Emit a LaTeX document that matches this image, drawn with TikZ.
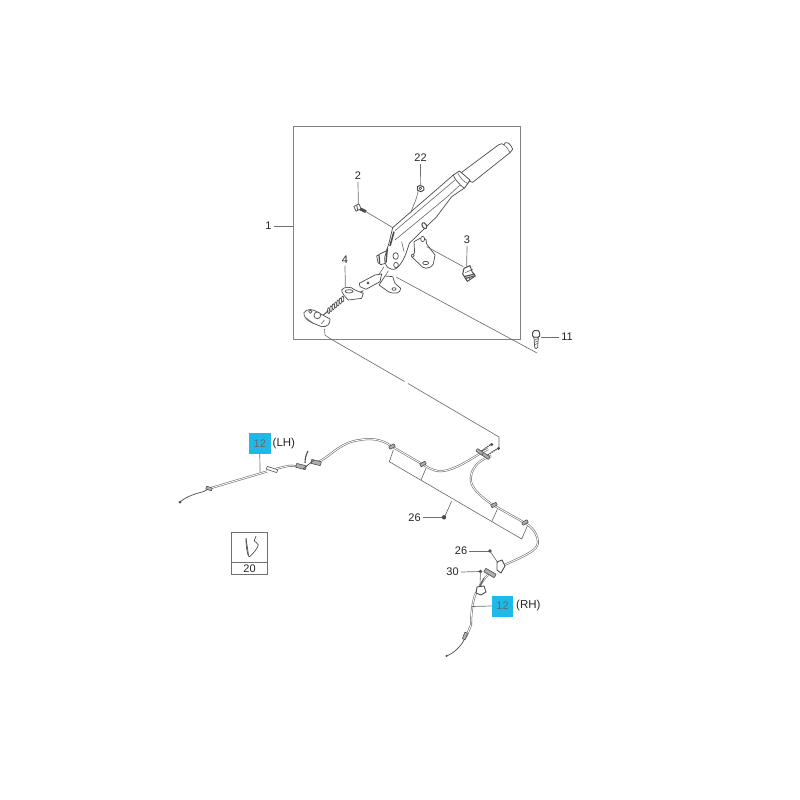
\documentclass[tikz,border=0pt]{standalone}
\usepackage{fontspec}
\setmainfont{Liberation Sans}
\definecolor{ink}{gray}{0.30}
\definecolor{cyanbox}{HTML}{1FB9E9}
\tikzset{
  lbl/.style={font=\fontsize{11}{13}\selectfont,text=black!85,inner sep=0pt},
  side/.style={font=\fontsize{11.5}{13}\selectfont,text=black!85,inner sep=0pt},
  part/.style={draw=ink,line width=0.7pt,line join=round,fill=white},
  thin line/.style={draw=ink!85,line width=0.6pt,line join=round},
  leader/.style={draw=ink!80,line width=0.7pt},
  cable/.style={draw=ink!85,line width=0.55pt,double=white,double distance=0.9pt,line join=round},
  wire/.style={draw=ink,line width=0.7pt,line join=round},
  blue box/.style={fill=cyanbox,minimum width=21.5pt,minimum height=21pt,inner sep=0pt,font=\fontsize{11}{13}\selectfont,text=black!60},
  fitting/.style={draw=ink,line width=0.6pt,fill=ink!45,rounded corners=0.5pt,minimum width=6pt,minimum height=3pt,inner sep=0pt},
}
\begin{document}
\begin{tikzpicture}[x=1pt,y=-1pt]
\useasboundingbox (0,0) rectangle (800,800);
\fill[white] (0,0) rectangle (800,800);

% frame
\node[draw=ink!70,line width=0.9pt,minimum width=227pt,minimum height=213.5pt,inner sep=0pt] (frame) at (406.5,232.8) {};

% long cable guide lines
\coordinate (a0) at (324.5,329);
\coordinate (a1) at (325,335);
\coordinate (a2) at (330,338.5);
\coordinate (a3) at (404.5,381.5);
\coordinate (a4) at (408,383.5);
\coordinate (a5) at (499,437);
\coordinate (a6) at (499,448);
\draw[thin line] (a0)--(a1)--(a2)--(a3);
\draw[thin line] (a4)--(a5)--(a6);
\coordinate (b1) at (396,277);
\coordinate (b2) at (537,353);
\draw[thin line] (b1)--(b2);

% lever assembly, in the coordinates of a 3x enlargement
\begin{scope}[shift={(280,120)},scale=1/3]
  % grip
  \path[part] (545,157) -- (655,75) .. controls (662,70) and (668,70) .. (672,74)
     -- (676,68) .. controls (684,66) and (692,72) .. (698,88) -- (690,98)
     -- (578,187) .. controls (565,185) and (552,172) .. (545,157) -- cycle;
  \draw[thin line] (672,74) .. controls (680,80) and (686,90) .. (690,98);
  % connecting tabs under the plate
  \draw[thin line] (312,440) -- (298,462);
  \draw[thin line] (325,452) -- (316,468);
  % pawl, behind the plate
  \path[part] (290,408) -- (300,402) -- (320,392) -- (322,428) -- (303,434) -- (294,428) -- cycle;
  \draw[ink,line width=1.2pt] (297,405) -- (299,430);
  % lever arm
  \path[part] (520,165) -- (338,323) -- (328,365) -- (314,412) .. controls (312,440) and (330,455) .. (350,445)
     .. controls (372,425) and (380,395) .. (388,370) -- (470,290) -- (515,230) -- (552,205)-- (570,182) -- (540,155) -- cycle;
  \draw[thin line] (345,332) -- (525,180) ;
  \draw[thin line] (345,360) -- (500,232) -- (540,195);
  \draw[thin line] (365,365) -- (372,395);
  % collar
  \path[part] (520,165) -- (538,153) -- (570,180) -- (553,205) .. controls (540,195) and (525,180) .. (520,165) -- cycle;
  \draw[thin line] (532,157) .. controls (540,172) and (550,185) .. (562,190);
  % holes
  \draw[part] (347,408) ellipse[x radius=8,y radius=10];
  \draw[part] (348,435) ellipse[x radius=7,y radius=8];
  \draw[part,line width=1pt,rotate around={30:(433,317)}] (433,317) ellipse[x radius=6,y radius=10];
  % pawl edge
  \draw[ink,line width=1.6pt] (342,335) -- (330,378);
  \draw[ink,line width=1.4pt] (322,385) -- (318,428);
  % right bracket
  \path[part] (402,365) -- (420,355) -- (438,358) -- (440,372) -- (465,405) -- (460,432)
     .. controls (448,450) and (428,448) .. (418,432) -- (395,410) -- (404,398) -- cycle;
  \draw[part] (437,429) ellipse[x radius=9,y radius=5];
  \draw[part] (398,407) circle[radius=5];
  \draw[part] (428,357) ellipse[x radius=6,y radius=8];
  % lower foot
  \path[part] (315,468) -- (338,470) -- (345,490) -- (362,505) .. controls (362,520) and (345,524) .. (325,515) -- (297,495) -- cycle;
  \draw[part] (342,507) ellipse[x radius=6,y radius=4];
  % flat plate
  \path[part] (238,490) -- (285,465) -- (305,462) -- (300,485) -- (258,508) -- (240,500) -- cycle;
  \draw[part] (264,489) circle[radius=3.5];
  % spring & yoke
  \draw[wire,line width=0.9pt] (250,512) -- (225,525);
  \path[part] (185,510) .. controls (190,500) and (215,498) .. (225,510) -- (250,520) -- (245,535) -- (205,540) .. controls (195,530) and (185,520) .. (185,510) -- cycle;
  \draw[part] (207,514) ellipse[x radius=12,y radius=5];
  \foreach \t in {0,1,...,6}{
    \draw[part] ({146+\t*7},{572-\t*5.8}) ellipse[x radius=3.5,y radius=9];
  }
  \draw[wire,line width=0.9pt] (130,585) -- (145,572);
  % base yoke
  \path[part] (72,578) .. controls (80,565) and (100,566) .. (115,578) -- (150,597) .. controls (152,612) and (140,622) .. (125,620) -- (95,608) .. controls (80,600) and (70,590) .. (72,578) -- cycle;
  \draw[part] (112,586) circle[radius=10];
  \draw[part] (91,575) circle[radius=5];
  \draw[thin line] (76,592) -- (100,610);
  \draw[thin line] (133,600) -- (124,612);
  % bolt 2
  \path[part,rotate around={25:(232,263)}] (224,255) rectangle (241,271);
  \draw[thin line,line width=1pt] (230,257) -- (234,272);
  \draw[line width=3pt,ink] (241,267) -- (258,275);
  % nut 22
  \path[part,line width=1pt] (412,200) -- (420,196) -- (431,201) -- (432,210) -- (423,215) -- (413,211) -- cycle;
  \draw[part] (421,205) circle[radius=4];
  % line nut -> arm
  \draw[thin line] (414,214) .. controls (410,240) and (398,258) .. (392,280);
  % clip 3
  \path[part,line width=1pt] (552,445) -- (570,437) -- (576,455) -- (586,468) -- (562,484) -- (548,462) -- cycle;
  \draw[thin line] (556,458) -- (578,448);
  \draw[ink,line width=1.1pt] (552,470) -- (584,462);
  \draw[ink,line width=1.1pt] (556,476) -- (582,468);
  \draw[thin line] (558,480) -- (562,470);
  \draw[thin line] (568,480) -- (570,468);
  % bolt 11
  \path[part,line width=1pt] (758,638) -- (762,632) -- (775,632) -- (779,638) -- (779,648) -- (774,652) -- (762,652) -- (758,648) -- cycle;
  \path[part] (762,652) -- (775,652) -- (773,682) -- (768,686) -- (764,682) -- cycle;
  \draw[thin line] (763,660) -- (775,656);
  \draw[thin line] (763,667) -- (774,663);
  \draw[thin line] (764,674) -- (773,670);
  % named attachment points
  \coordinate (p2) at (235,254);
  \coordinate (bolt2tip) at (258,275);
  \coordinate (arm2) at (340,324);
  \coordinate (p22) at (422,197);
  \coordinate (p3) at (560,440);
  \coordinate (clip3) at (550,440);
  \coordinate (br3) at (440,380);
  \coordinate (p4) at (196,502);
\end{scope}
\draw[thin line] (bolt2tip) -- (arm2);
\draw[thin line] (br3) -- (clip3);

% labels of the lever
\node[lbl] (n1) at (268.5,226) {1};
\node[lbl] (n2) at (358,176) {2};
\node[lbl] (n22) at (420.5,158) {22};
\node[lbl] (n3) at (467,240) {3};
\node[lbl] (n4) at (345,260) {4};
\node[lbl] (n11) at (567,337) {11};
\coordinate (f1) at (293,226);
\coordinate (p11) at (541,337);
\draw[leader] (n1.east)++(2,0) -- (f1);
\draw[leader] (n2.south)++(0,2) -- (p2);
\draw[leader] (n22.south)++(0,2) -- (p22);
\draw[leader] (n3.south)++(0,2) -- (p3);
\draw[leader] (n4.south)++(0,2) -- (p4);
\draw[leader] (n11.west)++(-2,0) -- (p11);

% LH cable
\coordinate (lh0) at (180,502);
\coordinate (lh1) at (203,491.7);
\coordinate (lh2) at (211,488);
\draw[wire] (lh0) .. controls (187,496) and (195,494) .. (lh1) -- (lh2);
\fill[ink] (180,502) circle[radius=1.5];
\draw[cable] (lh2) -- (267,471.5);
\draw[cable] (275,469) -- (288,466) .. controls (293,465) and (297,467) .. (300,466.5);
\draw[cable] (318,462) .. controls (330,457) and (340,442) .. (360,440) .. controls (370,438) and (382,439) .. (391,446) -- (422,464) .. controls (432,470) and (438,473) .. (448,470) .. controls (462,466) and (475,456) .. (488,449);
\node[fitting,rotate=-18] (lhf1) at (209,488.5) {};
\node[fitting,rotate=-18,minimum width=11pt,fill=white] (lhf2) at (272,469.5) {};
\node[fitting,rotate=-14,minimum width=10pt,minimum height=4pt] (lhf3) at (301,466.5) {};
\node[fitting,rotate=-14,minimum width=10pt,minimum height=4pt] (lhf4) at (316,462.5) {};
\draw[wire,line width=1.1pt] (305,463) .. controls (305,458) and (306,455) .. (308,451);
\draw[wire] (303,469) -- (314,460);

% RH cable
\draw[cable] (491,456) .. controls (482,459) and (472,465) .. (470.7,478) .. controls (470,486) and (478,495) .. (493,505) -- (525,523) .. controls (535,528) and (540,540) .. (537,546) .. controls (534,552) and (520,558) .. (502,566);
\draw[cable] (488,575) .. controls (482,580) and (478,590) .. (475,595) .. controls (472,605) and (471,615) .. (471,625) -- (466,637);
\draw[wire] (464,640) .. controls (460,648) and (452,654) .. (446.5,656);
\fill[ink] (446.5,656) circle[radius=1.2];
\node[fitting,rotate=70,minimum width=7pt] (rhf1) at (465,636) {};

% fittings along the cables
\foreach \n/\px/\py/\r in {c1/392/446.5/30,c2/423/464/30,c3/494/505/30,c4/525/522.5/30}{
  \node[fitting,rotate=\r] (\n) at (\px,\py) {};
}
\node[fitting,rotate=-35,minimum width=8pt] (c5) at (480,452) {};
\node[fitting,rotate=-35,minimum width=8pt] (c6) at (486,456) {};
% cable ends at the equaliser
\draw[wire,dash pattern=on 1.5pt off 0.8pt,line width=1.2pt] (c5) -- (491.5,444);
\draw[wire,dash pattern=on 1.5pt off 0.8pt,line width=1.2pt] (c6) -- (497,449);
\fill[ink] (491.7,444.5) circle[radius=1.6];
\fill[ink] (498.5,448.5) circle[radius=1.6];

% RH bracket near the lower end
\path[part,line width=0.9pt] (497,562) -- (502,560) -- (505,566) -- (501,573) -- (497,570) -- cycle;
\node[fitting,rotate=-30,minimum width=12pt,minimum height=4pt] (rhf2) at (490,573) {};
\path[part,line width=0.9pt] (477,587) -- (484,586) -- (486,592) -- (481,595) -- (476,593) -- cycle;
\draw[wire] (480,586) -- (484,578);

% clamp bracket with its ticks
\coordinate (br0) at (389.3,461.7);
\coordinate (br1) at (421,480);
\coordinate (br2) at (451.7,501);
\coordinate (br3a) at (491.7,521.7);
\coordinate (br4) at (521.7,539);
\coordinate (t0) at (393.3,450);
\coordinate (t1) at (426,468.3);
\coordinate (t2) at (445,516);
\coordinate (t3) at (497.3,509.3);
\coordinate (t4) at (527.3,526);
\draw[thin line] (t0)--(br0)--(br4)--(t4);
\draw[thin line] (br1)--(t1);
\draw[thin line] (br2)--(t2);
\draw[thin line] (br3a)--(t3);
\fill[ink] (444,517.3) circle[radius=2.2];

% lower labels
\node[lbl] (n26a) at (414.5,517.5) {26};
\draw[leader] (n26a.east)++(2,0) -- (442,517.5);
\node[lbl] (n26b) at (461,551) {26};
\coordinate (m26) at (490,551);
\draw[leader] (n26b.east)++(2,0) -- (m26);
\fill[ink] (m26) circle[radius=1.8];
\draw[thin line] (m26) -- (498,563);
\node[lbl] (n30) at (452.5,572) {30};
\coordinate (m30) at (480.5,571.5);
\draw[leader] (n30.east)++(2,0) -- (m30);
\fill[ink] (m30) circle[radius=1.8];
\draw[thin line] (m30) -- (480,585);

% 12 tags
\node[blue box] (lh) at (259.8,443.5) {12};
\node[side,anchor=west] (lht) at (272.5,444) {(LH)};
\coordinate (lhc) at (260,472);
\draw[leader] (lh.south) -- (lhc);
\node[blue box] (rh) at (502.5,606) {12};
\node[side,anchor=west] (rht) at (516,606) {(RH)};
\coordinate (rhc) at (472,606.5);
\draw[leader] (rh.west) -- (rhc);

% icon table
\node[draw=ink!80,line width=0.7pt,minimum width=35.5pt,minimum height=30pt,inner sep=0pt] (icon) at (249.5,547) {};
\node[draw=ink!80,line width=0.7pt,minimum width=35.5pt,minimum height=12.7pt,inner sep=0pt,lbl] (iconn) at (249.5,568.3) {20};
\draw[wire] (246,538.3) .. controls (246,544) and (246.5,549) .. (247.3,552) .. controls (248,556) and (249,557) .. (249.5,556.7) .. controls (252,555) and (258,548) .. (258.3,545) .. controls (258,542) and (254,542) .. (254.3,540.7) -- (256,536);
\draw[wire] (246,538.3) -- (248.5,555);
\end{tikzpicture}
\end{document}
